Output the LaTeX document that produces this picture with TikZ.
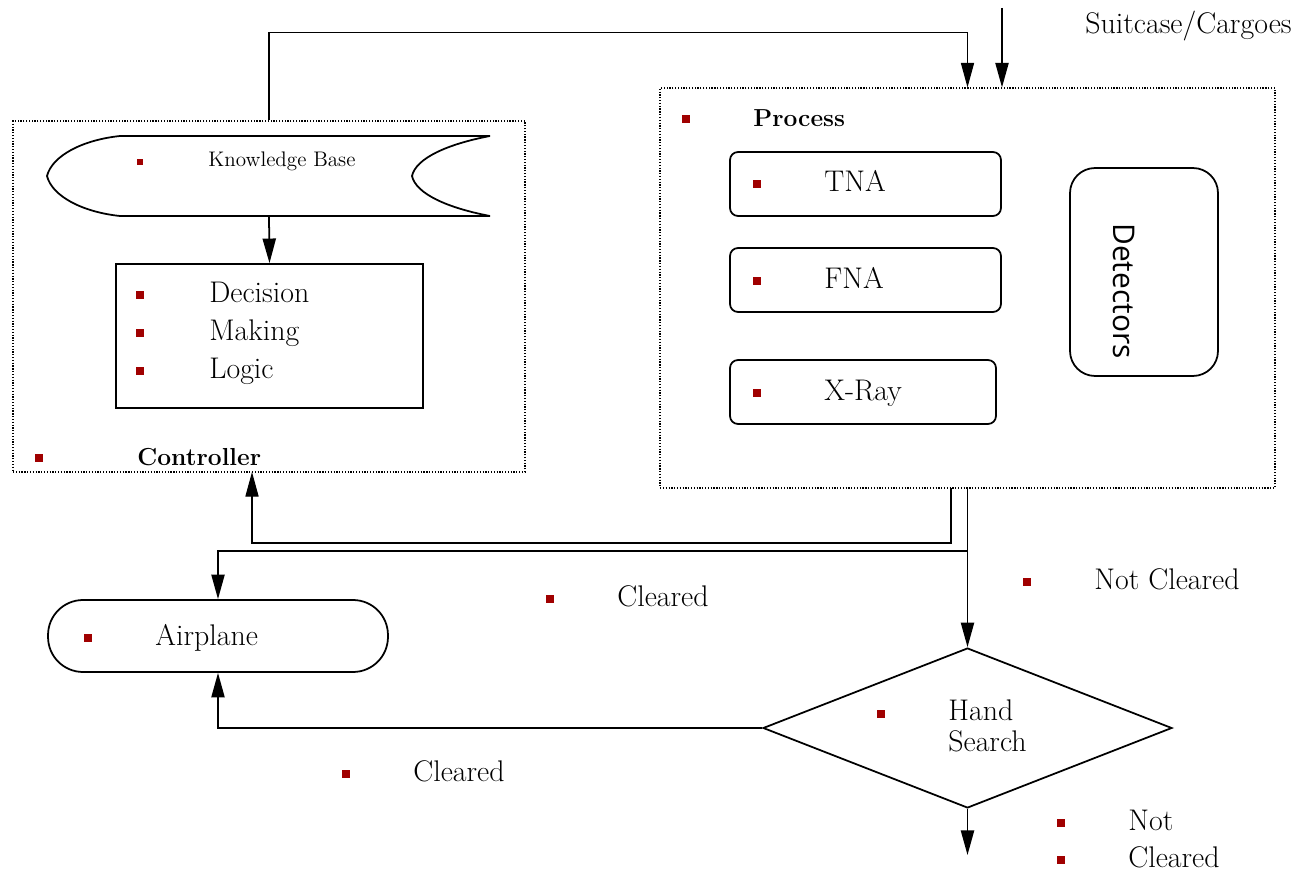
\documentclass[tikz,border=0pt]{standalone}
\usepackage{fontspec}
\usetikzlibrary{arrows.meta,shapes.geometric}
\definecolor{bulred}{RGB}{160,0,0}
\newfontfamily\detfont{Open Sans}

\begin{document}
\begin{tikzpicture}[x=0.02cm, y=-0.02cm,
    txt/.style={anchor=mid west, inner sep=0pt, yshift=-2pt, font=\fontsize{17}{18}\selectfont},
    bul/.style={fill=bulred, inner sep=0pt, minimum size=0.15cm},
    grp/.style={draw, dash pattern=on 0.7pt off 0.9pt, line width=0.7pt, inner sep=0pt},
    box/.style={draw, line width=1pt, inner sep=0pt},
    arr/.style={line width=1pt, -{Triangle[length=14pt,width=7.5pt]}},
    thinarr/.style={line width=0.6pt, -{Triangle[length=14pt,width=7.5pt]}}]
    \useasboundingbox (0,0) rectangle (1298,871);

    \node (ctrl) at (269,296.5) [grp, minimum width=10.24cm, minimum height=7.02cm] {};
    \node (proc) at (967.5,288) [grp, minimum width=12.3cm, minimum height=8cm] {};

    % knowledge base
    \draw[line width=1pt] (490,136) -- (120,136) .. controls (82,140) and (52,156) .. (47,176)
        .. controls (52,196) and (82,212) .. (120,216) -- (490,216)
        .. controls (448,208) and (416,194) .. (412,176) .. controls (416,158) and (448,144) .. (490,136);
    \coordinate (kb) at (269,216);

    \node (dml) at (269.5,336) [box, minimum width=6.14cm, minimum height=2.88cm] {};
    \node (tna) at (865.5,184) [box, rounded corners=0.16cm, minimum width=5.42cm, minimum height=1.28cm] {};
    \node (fna) at (865.5,280) [box, rounded corners=0.16cm, minimum width=5.42cm, minimum height=1.28cm] {};
    \node (xray) at (863,392) [box, rounded corners=0.16cm, minimum width=5.32cm, minimum height=1.28cm] {};
    \node (det) at (1144,272) [box, rounded corners=0.5cm, minimum width=2.96cm, minimum height=4.16cm] {};
    \node (air) at (218,636) [box, rounded corners=0.7cm, minimum width=6.8cm, minimum height=1.44cm] {};
    \node (hs) at (967.5,728) [box, diamond, minimum width=8.18cm, minimum height=3.2cm] {};

    \node (b0) at (140,162) [bul, minimum size=0.12cm] {};
    \foreach \x/\y [count=\i] in {140/295, 140/333, 140/371, 39/458, 686/119, 757/184, 757/281, 757/393,
        88/638, 550/599, 1027/582, 881/714, 346/774, 1061/823, 1061/860}
        \node (b\i) at (\x,\y) [bul] {};

    \node (kbt) at (208,161) [txt, yshift=1pt, font=\fontsize{12}{14}\selectfont] {Knowledge Base};
    \node (dec) at (209,295) [txt] {Decision};
    \node (mak) at (209,333) [txt] {Making};
    \node (log) at (209,371) [txt] {Logic};
    \node (ctrlt) at (137,458) [txt, font=\bfseries\fontsize{14}{16}\selectfont] {Controller};
    \node (proct) at (753,119) [txt, font=\bfseries\fontsize{14}{16}\selectfont] {Process};
    \node (tnat) at (824,184) [txt] {TNA};
    \node (fnat) at (824,281) [txt] {FNA};
    \node (xrayt) at (824,393) [txt] {X-Ray};
    \node (dett) at (1124,291) [rotate=-90, inner sep=0pt, font=\detfont\fontsize{17}{20}\selectfont] {Detectors};
    \node (sc) at (1085,26) [txt] {Suitcase/Cargoes};
    \node (airt) at (155,638) [txt] {Airplane};
    \node (cl1) at (617,599) [txt] {Cleared};
    \node (ncl) at (1094,582) [txt] {Not Cleared};
    \node (hst) at (948,699) [txt, anchor=north west, yshift=2pt, align=left] {Hand\\Search};
    \node (cl2) at (413,774) [txt] {Cleared};
    \node (nt) at (1128,823) [txt] {Not};
    \node (ncl2) at (1128,860) [txt] {Cleared};

    \coordinate (in) at (1002,8);
    \draw[arr] (in) -- (in |- proc.north);
    \draw[thinarr] (ctrl.north) -- ++(0,-88) -| (proc.north);
    \draw[arr] (kb) -- (dml.north);

    \coordinate (fb) at (951,488);
    \coordinate (ctrlin) at (252,472);
    \draw[thinarr] (fb) -- ++(0,55) -| (ctrlin);

    \draw[arr] (proc.south) -- (hs.north);
    \coordinate (br) at (967.5,551);
    \draw[arr] (br) -| (air.north);
    \draw[arr] (hs.west) -| (air.south);
    \coordinate (out) at (967.5,855);
    \draw[arr] (hs.south) -- (out);
\end{tikzpicture}
\end{document}
